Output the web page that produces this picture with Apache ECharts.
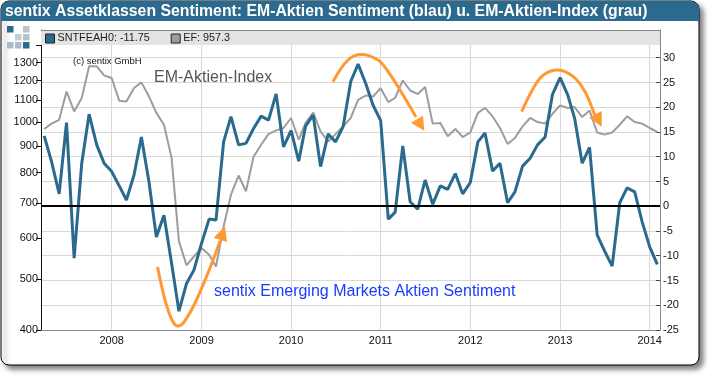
<!DOCTYPE html>
<html>
<head>
<meta charset="utf-8">
<style>html,body{margin:0;padding:0;background:#fff}#c{width:710px;height:376px}</style>
<script src="https://cdn.jsdelivr.net/npm/echarts@6/dist/echarts.min.js"></script>
</head>
<body>
<div id="c"></div>
<script>
const months = [
"2007-04-01","2007-05-01","2007-06-01","2007-07-01","2007-08-01","2007-09-01","2007-10-01","2007-11-01","2007-12-01",
"2008-01-01","2008-02-01","2008-03-01","2008-04-01","2008-05-01","2008-06-01","2008-07-01","2008-08-01","2008-09-01","2008-10-01","2008-11-01","2008-12-01",
"2009-01-01","2009-02-01","2009-03-01","2009-04-01","2009-05-01","2009-06-01","2009-07-01","2009-08-01","2009-09-01","2009-10-01","2009-11-01","2009-12-01",
"2010-01-01","2010-02-01","2010-03-01","2010-04-01","2010-05-01","2010-06-01","2010-07-01","2010-08-01","2010-09-01","2010-10-01","2010-11-01","2010-12-01",
"2011-01-01","2011-02-01","2011-03-01","2011-04-01","2011-05-01","2011-06-01","2011-07-01","2011-08-01","2011-09-01","2011-10-01","2011-11-01","2011-12-01",
"2012-01-01","2012-02-01","2012-03-01","2012-04-01","2012-05-01","2012-06-01","2012-07-01","2012-08-01","2012-09-01","2012-10-01","2012-11-01","2012-12-01",
"2013-01-01","2013-02-01","2013-03-01","2013-04-01","2013-05-01","2013-06-01","2013-07-01","2013-08-01","2013-09-01","2013-10-01","2013-11-01","2013-12-01",
"2014-01-01","2014-02-01"];
const sentiment = [14.2,9.0,2.5,16.9,-10.5,8.7,18.6,12.4,8.7,7.0,4.1,1.25,6.3,14.0,4.9,-6.2,-1.8,-11.5,-21.2,-15.6,-12.9,-7.5,-2.6,-2.8,13.0,18.1,12.4,12.7,15.7,18.2,17.4,22.7,12.0,15.3,9.1,16.2,18.4,8.0,14.6,13.0,16.1,25.2,28.7,24.8,20.4,17.3,-2.6,-1.2,12.2,0.9,-0.6,5.3,0.4,4.1,3.4,6.6,2.5,4.8,13.0,14.8,7.1,8.7,0.7,2.9,8.1,9.7,12.4,14.0,22.6,26.0,22.5,17.8,8.7,11.9,-5.8,-9.0,-12.1,0.7,3.7,2.9,-3.1,-8.2,-11.75];
const emIndex = [970,993,1010,1144,1048,1112,1278,1278,1228,1214,1098,1095,1162,1191,1119,1041,988,854,591,532,553,574,557,529,631,726,790,737,858,905,948,964,974,1018,925,996,1043,959,918,948,981,1018,1103,1124,1119,1161,1092,1113,1201,1149,1131,1167,993,996,939,970,936,955,1041,1064,1025,974,908,932,981,1018,1000,993,1037,1076,1064,1068,1022,1052,955,946,955,988,1025,1000,993,974,957.3];
const yearTicks = ["2008-01-01","2009-01-01","2010-01-01","2011-01-01","2012-01-01","2013-01-01","2014-01-01"];
const leftLabels = [400,500,600,700,800,900,1000,1100,1200,1300];
const leftTicks = [400,500,600,700,800,900,1000,1100,1200,1300,1400];
const rightTicks = [-25,-20,-15,-10,-5,0,5,10,15,20,25,30];
const titleText = "sentix Assetklassen Sentiment: EM-Aktien Sentiment (blau) u. EM-Aktien-Index (grau)";
const blueName = "SNTFEAH0: -11.75", greyName = "EF: 957.3";

const FONT = '"Liberation Sans", Arial, sans-serif';
const BLUE = "#2a6a8e", GREY = "#9d9d9d", ORANGE = "#ff9933";
const ts = s => new Date(s + "T00:00:00Z").getTime();

function logoCell(x, y, fill) {
  return {type:"rect", shape:{x, y, width:6.5, height:6.5}, style:{fill}, z:5, silent:true};
}
function curve(points) {
  return {type:"polyline", shape:{points, smooth:0.35}, style:{stroke:ORANGE, lineWidth:3, fill:null}, z:20, silent:true};
}
function head(points) {
  return {type:"polygon", shape:{points}, style:{fill:ORANGE}, z:20, silent:true};
}
function label(text, x, y, size, fill) {
  return {type:"text", x, y, z:21, silent:true, style:{text, fill, font:size + "px " + FONT, textVerticalAlign:"middle"}};
}

const chart = echarts.init(document.getElementById("c"), null, {renderer:"canvas"});
chart.setOption({
  animation:false,
  backgroundColor:"#fff",
  textStyle:{fontFamily:FONT},
  grid:{left:41, right:50, top:30, bottom:46, show:false},
  title:{text:titleText, left:5, top:3, padding:0, textStyle:{color:"#fff", fontFamily:FONT, fontWeight:"bold", fontSize:15.8, lineHeight:18}, z:10},
  legend:{show:true, left:45, top:33, padding:0, itemGap:21, itemWidth:9, itemHeight:9, icon:"rect", selectedMode:false,
    data:[{name:blueName},{name:greyName}],
    textStyle:{color:"#222", fontSize:10.8, fontFamily:FONT, padding:[0,0,0,-2]}, z:12,
    itemStyle:{borderColor:"#222", borderWidth:1}},
  xAxis:{type:"value", min:ts("2007-03-19"), max:ts("2014-02-12"),
    axisLine:{show:true, onZero:false, lineStyle:{color:"#888", width:1}},
    axisTick:{show:false, customValues:yearTicks.map(ts)},
    splitLine:{show:true, lineStyle:{color:"#d8d8d8", width:1}},
    axisLabel:{customValues:yearTicks.map(ts), color:"#111", fontSize:11, margin:5, hideOverlap:false,
      formatter:v => String(new Date(v).getUTCFullYear())}},
  yAxis:[
    {type:"log", logBase:10, min:400, max:1500, position:"left",
     axisLine:{show:true, onZero:false, lineStyle:{color:"#111", width:1}},
     axisTick:{show:true, length:5, customValues:leftTicks, lineStyle:{color:"#111"}},
     minorTick:{show:false}, splitLine:{show:false}, minorSplitLine:{show:false},
     axisLabel:{customValues:leftLabels, color:"#111", fontSize:11, margin:3, formatter:v => String(Math.round(v))}},
    {type:"value", min:-25, max:35.6, position:"right",
     axisLine:{show:true, onZero:false, lineStyle:{color:"#888", width:1}},
     axisTick:{show:true, inside:true, length:4, customValues:rightTicks, lineStyle:{color:"#444"}},
     splitLine:{show:true, lineStyle:{color:"#d8d8d8", width:1}},
     axisLabel:{customValues:rightTicks, color:"#111", fontSize:11, margin:3}}
  ],
  series:[
    {name:blueName, type:"line", yAxisIndex:1, z:4, showSymbol:false, symbol:"none",
     data:months.map((m,i)=>[ts(m), sentiment[i]]),
     lineStyle:{color:BLUE, width:3}, itemStyle:{color:BLUE},
     markLine:{silent:true, symbol:"none", label:{show:false}, z:5, animation:false,
       lineStyle:{color:"#000", width:2, type:"solid"}, data:[{yAxis:0}]}},
    {name:greyName, type:"line", yAxisIndex:0, z:3, showSymbol:false, symbol:"none",
     data:months.map((m,i)=>[ts(m), emIndex[i]]),
     lineStyle:{color:GREY, width:2}, itemStyle:{color:GREY}}
  ],
  graphic:[
    {type:"rect", z:-10, silent:true, shape:{x:1, y:1, width:698, height:364, r:8},
     style:{fill:"#fff", stroke:"#000", lineWidth:1, shadowColor:"rgba(60,60,60,0.65)", shadowBlur:5, shadowOffsetX:4, shadowOffsetY:4}},
    {type:"rect", z:1, silent:true, shape:{x:1, y:1, width:698, height:20, r:[8,8,0,0]}, style:{fill:BLUE}},
    {type:"rect", z:1, silent:true, shape:{x:41, y:30, width:619, height:15}, style:{fill:"#e3e3e3"}},
    {type:"line", z:2, silent:true, shape:{x1:41, y1:30.5, x2:660, y2:30.5}, style:{stroke:"#888", lineWidth:1}},
    logoCell(7,26,"#2a6a8e"), logoCell(23,26,"#b6c4cc"),
    logoCell(15,34,"#c3ced4"), logoCell(23,34,"#b6c4cc"),
    logoCell(7,42,"#a9bbc6"), logoCell(15,42,"#a9bbc6"), logoCell(23,42,"#2a6a8e"),
    curve([[157.5,267],[165,300],[172,320],[177.5,326],[184,322],[195,303],[210,268],[220,241]]),
    head([[225,226],[213.7,237.7],[227,242]]),
    curve([[333,81.7],[348,60],[361.7,54.5],[378,60],[387,70],[400,90],[416,117]]),
    head([[424.3,130.7],[411,122.7],[423,115.7]]),
    curve([[521.7,111.7],[533.3,88.3],[543.3,75],[558.3,70],[573.3,76.7],[585,91.7],[595,116]]),
    head([[601.7,126.7],[589.3,117.7],[601.7,111]]),
    label("(c) sentix GmbH", 73, 61, 9.5, "#111"),
    label("EM-Aktien-Index", 154, 78, 16, "#555"),
    label("sentix Emerging Markets Aktien Sentiment", 214, 291.5, 16, "#1a3cff")
  ]
});
</script>
</body>
</html>
